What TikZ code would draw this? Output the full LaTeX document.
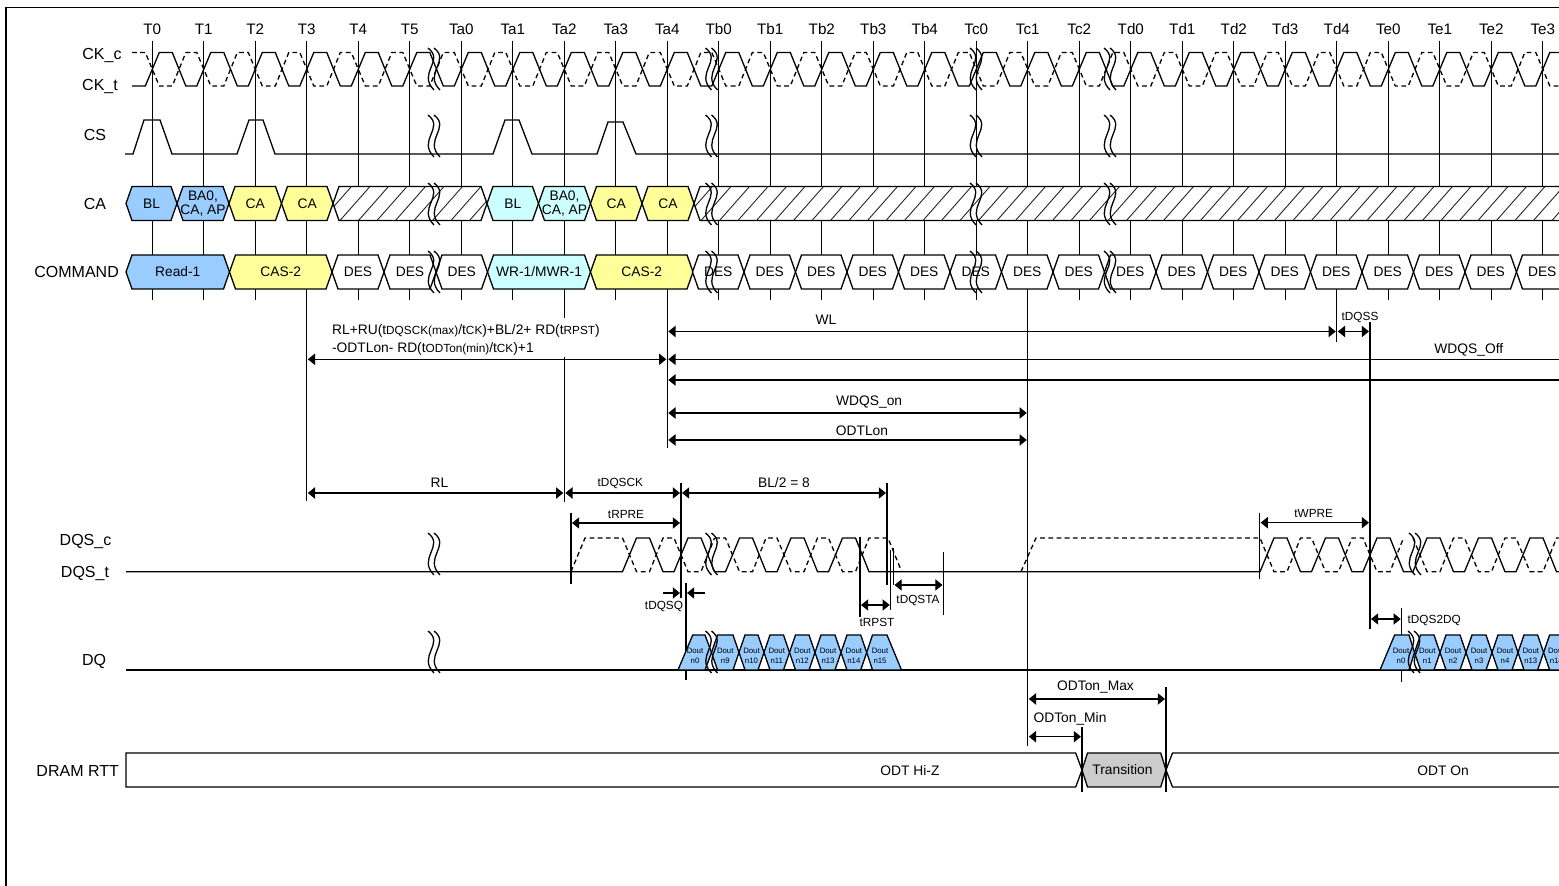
\documentclass[tikz,border=0pt]{standalone}
\usepackage{fontspec}
\setmainfont{Liberation Sans}
\usetikzlibrary{arrows.meta}
\newcommand{\fsRow}{\fontsize{8}{9.6}\selectfont}
\newcommand{\fsClk}{\fontsize{7.6}{9}\selectfont}
\newcommand{\fsMid}{\fontsize{6.9}{8.8}\selectfont}
\newcommand{\fsBus}{\fontsize{6.9}{6.9}\selectfont}
\newcommand{\fsSub}{\fontsize{5.9}{7}\selectfont}
\newcommand{\fsDout}{\fontsize{3.9}{5}\selectfont}
\definecolor{readblue}{HTML}{99CCFF}
\definecolor{writecyan}{HTML}{CCFFFF}
\definecolor{casyellow}{HTML}{FFFF99}
\definecolor{transgray}{HTML}{CCCCCC}
\tikzset{
  every node/.style={inner sep=0pt},
  dimline/.style={<->,>={Triangle[length=3.6pt,width=5.6pt]},shorten >=0.5pt,shorten <=0.5pt},
  dimtext/.style={font=\fsMid},
  dimsmall/.style={font=\fsSub},
  dashline/.style={dash pattern=on 2.4pt off 1.7pt},
  hatchline/.style={line width=0.45pt,black!85}
}
% one bus cell: name, left point, right point, centre y, fill, text
\newcommand{\busseg}[6]{
  \filldraw[fill=#5] (#2,#4) -- ({#2+6},{#4-17}) -- ({#3-6},{#4-17}) -- (#3,#4)
    -- ({#3-6},{#4+17}) -- ({#2+6},{#4+17}) -- cycle;
  \node[align=center,font=\fsBus] (#1) at ({(#2+#3)/2},#4) {#6};
}
% don't care cell on the CA row
\newcommand{\hatchseg}[2]{
  \begin{scope}
    \clip (#1,203.5) -- ({#1+6},186.5) -- ({#2-6},186.5) -- (#2,203.5)
      -- ({#2-6},220.5) -- ({#1+6},220.5) -- cycle;
    \fill[white] (#1,180) rectangle (#2,230);
    \foreach \k in {0,...,50}
      \draw[hatchline] ({#1-30+18.5*\k},220.5) -- ({#1+18.5*\k},186.5);
  \end{scope}
  \draw (#1,203.5) -- ({#1+6},186.5) -- ({#2-6},186.5) -- (#2,203.5)
    -- ({#2-6},220.5) -- ({#1+6},220.5) -- cycle;
}
% data cell on the DQ row
\newcommand{\doutseg}[4]{
  \filldraw[fill=readblue] (#1,652.5) -- ({#1+6},635) -- ({#2-6},635) -- (#2,652.5)
    -- ({#2-6},670) -- ({#1+6},670) -- cycle;
  \node[align=center,font=\fsDout] (#3) at ({(#1+#2)/2},655.5) {Dout\\#4};
}
\newcommand{\wavybreak}[2]{
  \draw (#1,{#2-21}) .. controls ({#1+17},{#2-8}) and ({#1-11},{#2+4}) .. ({#1+6},{#2+21});
  \draw ({#1+6},{#2-21}) .. controls ({#1+23},{#2-8}) and ({#1-5},{#2+4}) .. ({#1+12},{#2+21});
}
% toggling edges, used inside a path
\newcommand{\wavecycles}[4]{
  \foreach \k in {#2} {
    -- ({#1+51.5*\k-7},#3) -- ({#1+51.5*\k+7},#4)
    -- ({#1+51.5*\k+20},#4) -- ({#1+51.5*\k+33.5},#3)
  }
}
\begin{document}
\begin{tikzpicture}[x=0.5pt,y=-0.5pt,line width=0.65pt]
\useasboundingbox (0,0) rectangle (1559,886);
\clip (0,0) rectangle (1559,886);
\draw[line width=0.9pt] (6,886) -- (6,7.5) -- (1559,7.5);

% clock edges
\foreach \name [count=\i from 0] in {T0,T1,T2,T3,T4,T5,Ta0,Ta1,Ta2,Ta3,Ta4,Tb0,Tb1,Tb2,Tb3,Tb4,Tc0,Tc1,Tc2,Td0,Td1,Td2,Td3,Td4,Te0,Te1,Te2,Te3}{
  \pgfmathsetmacro{\xt}{152.3+51.5*\i}
  \node (\name) at (\xt,29) {\fsClk \name};
  \coordinate (v\name) at (\xt,41);
  \draw (v\name) -- ++(0,259);
}
\draw (vT3) -- (vT3 |- 0,501);
\draw (vTa2) -- (vTa2 |- 0,318);
\draw (vTa2 |- 0,357) -- (vTa2 |- 0,502);
\draw (vTa4) -- (vTa4 |- 0,448);
\draw (vTc1) -- (vTc1 |- 0,746);
\draw (vTd4) -- (vTd4 |- 0,342);

% row names
\node (nameCKc) at (102,56) {\fsRow CK\_c};
\node (nameCKt) at (100,87) {\fsRow CK\_t};
\node (nameCS) at (95,135) {\fsRow CS};
\node (nameCA) at (95,203.5) {\fsRow CA};
\node[anchor=east] (nameCMD) at (119.5,271.5) {\fsRow COMMAND};
\node (nameDQSc) at (85.5,542) {\fsRow DQS\_c};
\node (nameDQSt) at (85,574) {\fsRow DQS\_t};
\node (nameDQ) at (94,661) {\fsRow DQ};
\node[anchor=east] (nameRTT) at (119.5,771) {\fsRow DRAM RTT};

% clocks
\draw (132,86) \wavecycles{152.3}{0,...,27}{86}{52.5};
\draw[dashline] (132,52.5) \wavecycles{152.3}{0,...,27}{52.5}{86};

% chip select
\draw (125,154) -- (133,154) -- (144,120) -- (160,120) -- (172,154)
  -- (237,154) -- (249,120) -- (263,120) -- (275,154)
  -- (493,154) -- (505,120) -- (519,120) -- (532,154)
  -- (597,154) -- (608,122) -- (623,122) -- (636,154) -- (1559,154);

% CA row
\busseg{caBL}{126}{177}{203.5}{readblue}{BL}
\busseg{caBA}{177}{229}{203.5}{readblue}{BA0,\\CA, AP}
\busseg{caCA}{229}{281.5}{203.5}{casyellow}{CA}
\busseg{caCAb}{281.5}{333}{203.5}{casyellow}{CA}
\hatchseg{333}{487}
\busseg{caBLw}{487}{538.5}{203.5}{writecyan}{BL}
\busseg{caBAw}{538.5}{590.5}{203.5}{writecyan}{BA0,\\CA, AP}
\busseg{caCAw}{590.5}{642}{203.5}{casyellow}{CA}
\busseg{caCAx}{642}{694}{203.5}{casyellow}{CA}
\hatchseg{694}{1575}

% COMMAND row
\busseg{cmdRead}{126}{229.5}{272}{readblue}{Read-1}
\busseg{cmdCas}{229.5}{332}{272}{casyellow}{CAS-2}
\busseg{cmdDesA}{332}{384}{272}{white}{DES}
\busseg{cmdDesB}{384}{436}{272}{white}{DES}
\busseg{cmdDesC}{436}{487.5}{272}{white}{DES}
\busseg{cmdWr}{487.5}{590.5}{272}{writecyan}{WR-1/MWR-1}
\busseg{cmdCasB}{590.5}{693}{272}{casyellow}{CAS-2}
\foreach \i in {0,...,16}{
  \pgfmathsetmacro{\xa}{692.5+51.5*\i}
  \pgfmathsetmacro{\xb}{\xa+51.5}
  \busseg{cmdDes\i}{\xa}{\xb}{272}{white}{DES}
}

% DQS pair
\draw (126,571.7) \wavecycles{681}{-1,0}{571.7}{538} \wavecycles{732.5}{0,1,2}{571.7}{538}
  \wavecycles{1267}{0,1,2}{571.7}{538} \wavecycles{1420}{0,1,2,3}{571.7}{538};
\draw[dashline] (571,571.7) -- (585,538) \wavecycles{681}{-1,0}{538}{571.7};
\draw[dashline] (715,538) \wavecycles{732.5}{0,1,2}{538}{571.7} -- (888,538) -- (901.7,571.7);
\draw[dashline] (1021,571.7) -- (1036,538) \wavecycles{1267}{0,1,2}{538}{571.7};
\draw[dashline] (1413,538) \wavecycles{1420}{0,1,2,3}{538}{571.7};

% DQ row
\draw (686,583) -- (686,680);
\draw (1401.7,608) -- (1401.7,681.7);
\draw (126,670) -- (1559,670);
\filldraw[fill=readblue] (678,670) -- (692.7,635) -- (705,635) -- (711.5,652.5) -- (705,670) -- cycle;
\node[align=center,font=\fsDout] (doutA0) at (695,655.5) {Dout\\n0};
\doutseg{711.5}{739}{doutA9}{n9}
\doutseg{739}{764}{doutA10}{n10}
\doutseg{764}{789.5}{doutA11}{n11}
\doutseg{789.5}{815}{doutA12}{n12}
\doutseg{815}{841}{doutA13}{n13}
\doutseg{841}{866.7}{doutA14}{n14}
\filldraw[fill=readblue] (866.7,652.5) -- (872.5,635) -- (887,635) -- (901.5,670) -- (872.5,670) -- cycle;
\node[align=center,font=\fsDout] (doutA15) at (880,655.5) {Dout\\n15};
\filldraw[fill=readblue] (1380,670) -- (1394.6,635) -- (1409,635) -- (1414.5,652.5) -- (1409,670) -- cycle;
\node[align=center,font=\fsDout] (doutB0) at (1401,655.5) {Dout\\n0};
\doutseg{1414.5}{1440}{doutB1}{n1}
\doutseg{1440}{1466}{doutB2}{n2}
\doutseg{1466}{1492}{doutB3}{n3}
\doutseg{1492}{1518}{doutB4}{n4}
\doutseg{1518}{1543.6}{doutB13}{n13}
\doutseg{1543.6}{1569}{doutB14}{n14}

% DRAM RTT row
\filldraw[fill=white] (126,753) -- (1075.7,753) -- (1082,770) -- (1075.7,787) -- (126,787) -- cycle;
\node (rttHiZ) at (910,770.5) {\fsBus ODT Hi-Z};
\filldraw[fill=transgray] (1082,770) -- (1087.5,753) -- (1160.7,753) -- (1166,770) -- (1160.7,787) -- (1087.5,787) -- cycle;
\node (rttTrans) at (1122.5,770) {\fsBus Transition};
\filldraw[fill=white] (1575,753) -- (1172.5,753) -- (1166,770) -- (1172.5,787) -- (1575,787);
\node (rttOn) at (1443,771) {\fsBus ODT On};

% breaks
\foreach \xb in {428,705.5,970,1104}{
  \foreach \yb in {69,136,204,272}{
    \wavybreak{\xb}{\yb}
  }
}
\foreach \xb/\yb in {428/554,705.5/554,1409/554,428/652,705.5/652,1408/652}{
  \wavybreak{\xb}{\yb}
}

% timing parameters, upper group
\coordinate (wlL) at (vTa4 |- 0,331.5);
\coordinate (wlR) at (vTd4 |- 0,331.5);
\coordinate (dqssR) at (1370,331.5);
\coordinate (offL) at (vTa4 |- 0,359.3);
\coordinate (offR) at (1575,359.3);
\coordinate (off2L) at (vTa4 |- 0,380);
\coordinate (off2R) at (1575,380);
\coordinate (rlruL) at (vT3 |- 0,359.3);
\coordinate (onL) at (vTa4 |- 0,413);
\coordinate (onR) at (vTc1 |- 0,413);
\coordinate (odtL) at (vTa4 |- 0,440);
\coordinate (odtR) at (vTc1 |- 0,440);
\draw (dqssR) ++(0,-9) -- (1370,629);
\path[dimline] (wlL) edge node[dimtext,pos=0.237,above=3.2pt] (lblWL) {WL} (wlR);
\path[dimline] (wlR) edge node[dimsmall,pos=0.7,above=4pt] (lblDQSS) {tDQSS} (dqssR);
\path[dimline] (offL) edge node[dimtext,pos=0.883,above=1pt] (lblOff) {WDQS\_Off} (offR);
\path[dimline] (off2L) edge (off2R);
\path[dimline] (rlruL) edge (offL);
\path[dimline] (onL) edge node[dimtext,pos=0.56,above=2pt] (lblOn) {WDQS\_on} (onR);
\path[dimline] (odtL) edge node[dimtext,pos=0.54,above=2pt] (lblODT) {ODTLon} (odtR);
\node[anchor=west,align=left,font=\fsMid] (lblRLRU) at (331.5,340) {RL+RU(t{\fsSub DQSCK(max)}/t{\fsSub CK})+BL/2+ RD(t{\fsSub RPST})\\-ODTLon- RD(t{\fsSub ODTon(min)}/t{\fsSub CK})+1};

% timing parameters, read burst
\coordinate (rlL) at (vT3 |- 0,493);
\coordinate (rlR) at (vTa2 |- 0,493);
\coordinate (ckR) at (681,493);
\coordinate (blR) at (887,493);
\coordinate (preL) at (571,523);
\coordinate (preR) at (681,523);
\draw (ckR) ++(0,-10) -- (681,598);
\draw (blR) ++(0,-10) -- (887,585);
\draw (preL) ++(0,-10) -- (571,584);
\path[dimline] (rlL) edge node[dimtext,pos=0.515,above=2.6pt] (lblRL) {RL} (rlR);
\path[dimline] (rlR) edge node[dimsmall,pos=0.48,above=2pt] (lblCK) {tDQSCK} (ckR);
\path[dimline] (ckR) edge node[dimtext,above=2.4pt] (lblBL) {BL/2 = 8} (blR);
\path[dimline] (preL) edge node[dimsmall,above=2pt] (lblPRE) {tRPRE} (preR);
\coordinate (dqsqA) at (663,593);
\coordinate (dqsqB) at (681,593);
\coordinate (dqsqC) at (686,593);
\coordinate (dqsqD) at (705,593);
\draw[->,>={Triangle[length=3.6pt,width=5.6pt]},shorten >=0.5pt] (dqsqA) -- (dqsqB);
\draw[->,>={Triangle[length=3.6pt,width=5.6pt]},shorten >=0.5pt] (dqsqD) -- (dqsqC);
\node (lblDQSQ) at (664,606.5) {\fsSub tDQSQ};
\coordinate (pstL) at (860,605);
\coordinate (pstR) at (890.7,605);
\coordinate (staL) at (893.5,585);
\coordinate (staR) at (943.5,585);
\draw (pstL) ++(0,-68) -- (860,617);
\draw (pstR) ++(0,-55) -- (890.7,610);
\draw (staL) ++(0,-37) -- (893.5,585);
\draw (staR) ++(0,-33) -- (943.5,615);
\path[dimline] (pstL) edge (pstR);
\path[dimline] (staL) edge (staR);
\node (lblPST) at (877,622) {\fsSub tRPST};
\node (lblSTA) at (918,600) {\fsSub tDQSTA};

% timing parameters, write burst
\coordinate (wpreL) at (1259.6,522.7);
\coordinate (wpreR) at (1370,522.7);
\coordinate (s2dL) at (1370,619);
\coordinate (s2dR) at (1401.7,619);
\draw (wpreL) ++(0,-10) -- (1259.6,579);
\path[dimline] (wpreL) edge node[dimsmall,pos=0.49,above=2pt] (lblWPRE) {tWPRE} (wpreR);
\path[dimline] (s2dL) edge (s2dR);
\node[anchor=west] (lblS2D) at (1407,620) {\fsSub tDQS2DQ};
\coordinate (maxL) at (vTc1 |- 0,699);
\coordinate (maxR) at (1166,699);
\coordinate (minL) at (vTc1 |- 0,736.7);
\coordinate (minR) at (1082,736.7);
\draw (maxR) ++(0,-12) -- (1166,791.7);
\draw (minR) ++(0,-10) -- (1082,791.7);
\path[dimline] (maxL) edge node[dimtext,pos=0.49,above=2.5pt] (lblMax) {ODTon\_Max} (maxR);
\path[dimline] (minL) edge (minR);
\node (lblMin) at (1070,719) {\fsMid ODTon\_Min};
\end{tikzpicture}
\end{document}
